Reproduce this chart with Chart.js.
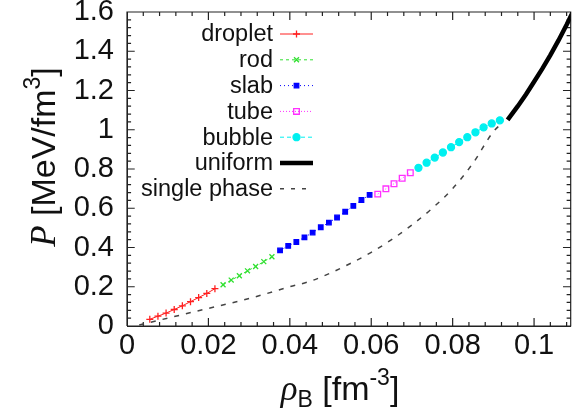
<!DOCTYPE html>
<html>
<head>
<meta charset="utf-8">
<title>Pressure vs baryon density</title>
<script src="https://cdn.jsdelivr.net/npm/chart.js@4.4.1/dist/chart.umd.min.js"></script>
<style>
  html, body { margin: 0; padding: 0; background: #fff; }
  #chart { display: block; }
</style>
</head>
<body>
<canvas id="chart" width="576" height="411"></canvas>
<script>
// values (x: rho_B in fm^-3, y: P in MeV/fm^3)
const dropletX = [0.0056, 0.0076, 0.0096, 0.0116, 0.0136, 0.0156, 0.0176, 0.0196, 0.0216];
const dropletP = [0.034, 0.050, 0.066, 0.084, 0.103, 0.124, 0.145, 0.166, 0.190];
const rodX = [0.0236, 0.0256, 0.0276, 0.0296, 0.0316, 0.0336, 0.0356];
const rodP = [0.210, 0.234, 0.256, 0.281, 0.303, 0.328, 0.353];
const slabX = [0.0376, 0.0396, 0.0416, 0.0436, 0.0456, 0.0476, 0.0496, 0.0516, 0.0536, 0.0556, 0.0576, 0.0596];
const slabP = [0.385, 0.408, 0.428, 0.452, 0.476, 0.503, 0.527, 0.553, 0.582, 0.612, 0.642, 0.668];
const tubeX = [0.0616, 0.0636, 0.0656, 0.0676, 0.0696];
const tubeP = [0.672, 0.699, 0.725, 0.753, 0.781];
const bubbleX = [0.0716, 0.0736, 0.0756, 0.0776, 0.0796, 0.0816, 0.0836, 0.0856, 0.0876, 0.0896, 0.0916];
const bubbleP = [0.806, 0.832, 0.858, 0.884, 0.911, 0.937, 0.962, 0.987, 1.012, 1.032, 1.048];
const uniformX = [0.0935, 0.096, 0.098, 0.100, 0.102, 0.104, 0.106, 0.108, 0.110];
const uniformP = [1.05, 1.12, 1.18, 1.245, 1.31, 1.38, 1.455, 1.535, 1.62];
const singleX = [0.003, 0.01, 0.02, 0.03, 0.04, 0.045, 0.05, 0.055, 0.06, 0.065, 0.07, 0.075, 0.08, 0.085, 0.09, 0.0925];
const singleP = [0.005, 0.04, 0.09, 0.14, 0.2, 0.228, 0.27, 0.32, 0.375, 0.44, 0.515, 0.6, 0.7, 0.83, 0.99, 1.04];

const X_MAX = 0.109;
const Y_MAX = 1.6;
const xMinorStep = 0.004;  // labelled every 5th tick (0.02)
const yMinorStep = 0.04;   // labelled every 5th tick (0.2)

const SANS = '"Liberation Sans", Arial, sans-serif';
const SERIF = '"Liberation Serif", "Times New Roman", serif';

function pts(xs, ys) {
  return xs.map((x, i) => ({ x: x, y: ys[i] }));
}
function tickValues(step, max) {
  const out = [];
  for (let i = 0; i * step <= max + 1e-9; i++) out.push(+(i * step).toFixed(4));
  return out;
}
function majorLabel(digits) {
  return (v, i) => (i % 5 === 0 ? String(+v.toFixed(digits)) : '');
}

const series = [
  { label: 'droplet', data: pts(dropletX, dropletP), color: '#ff2020', style: 'cross', radius: 3.5, dash: [], fill: false },
  { label: 'rod', data: pts(rodX, rodP), color: '#30e030', style: 'crossRot', radius: 3.5, dash: [3, 3], fill: false },
  { label: 'slab', data: pts(slabX, slabP), color: '#0000ff', style: 'rect', radius: 3.2, dash: [1, 3], fill: true },
  { label: 'tube', data: pts(tubeX, tubeP), color: '#ff30ff', style: 'rect', radius: 4, dash: [1, 2], fill: false },
  { label: 'bubble', data: pts(bubbleX, bubbleP), color: '#00f0f0', style: 'circle', radius: 3.5, dash: [4, 3], fill: true },
];

const datasets = series.map((s) => ({
  label: s.label,
  data: s.data,
  showLine: true,
  borderColor: s.color,
  borderWidth: 1,
  borderDash: s.dash,
  pointStyle: s.style,
  pointRadius: s.radius,
  pointBorderColor: s.color,
  pointBackgroundColor: s.fill ? s.color : 'rgba(0,0,0,0)',
  pointBorderWidth: 1.3,
  clip: 0,
}));

datasets.push({
  label: 'uniform',
  data: pts(uniformX, uniformP),
  showLine: true,
  borderColor: '#000',
  borderWidth: 4.5,
  pointRadius: 0,
  clip: 0,
});
datasets.push({
  label: 'single phase',
  data: pts(singleX, singleP),
  showLine: true,
  borderColor: '#444',
  borderWidth: 1.5,
  borderDash: [5, 7],
  cubicInterpolationMode: 'monotone',
  pointRadius: 0,
  clip: 0,
});

// frame box and inward ticks, run through the same scales as the data
const xTickLen = [0.0019, 0.001];   // major, minor (about 8px / 4px)
const yTickLen = [0.041, 0.02];
const frameLines = [
  { x: 0, y: 0 }, { x: X_MAX, y: 0 }, { x: X_MAX, y: Y_MAX }, { x: 0, y: Y_MAX }, { x: 0, y: 0 }, { x: 0, y: null },
];
tickValues(xMinorStep, X_MAX).forEach((v, i) => {
  const len = yTickLen[i % 5 === 0 ? 0 : 1];
  frameLines.push({ x: v, y: 0 }, { x: v, y: len }, { x: v, y: null });
  frameLines.push({ x: v, y: Y_MAX }, { x: v, y: Y_MAX - len }, { x: v, y: null });
});
tickValues(yMinorStep, Y_MAX).forEach((v, i) => {
  const len = xTickLen[i % 5 === 0 ? 0 : 1];
  frameLines.push({ x: 0, y: v }, { x: len, y: v }, { x: 0, y: null });
  frameLines.push({ x: X_MAX, y: v }, { x: X_MAX - len, y: v }, { x: X_MAX, y: null });
});
datasets.push({
  label: 'frame',
  data: frameLines,
  showLine: true,
  spanGaps: false,
  borderColor: '#222',
  borderWidth: 1.2,
  pointRadius: 0,
  clip: 3,
});

// draws a run of [text, font, baselineShift] pieces starting at x
function drawRun(ctx, parts, x, y) {
  parts.forEach((p) => {
    ctx.font = p[1];
    ctx.fillText(p[0], x, y + p[2]);
    x += ctx.measureText(p[0]).width;
  });
}
function runWidth(ctx, parts) {
  return parts.reduce((w, p) => { ctx.font = p[1]; return w + ctx.measureText(p[0]).width; }, 0);
}

function drawTitles(ctx) {
  ctx.save();
  ctx.fillStyle = '#111';
  ctx.textBaseline = 'alphabetic';
  ctx.textAlign = 'left';
  const big = '34px ' + SANS;
  const small = '23px ' + SANS;
  const xParts = [['ρ', 'italic 35px ' + SERIF, 0], ['B', small, 7], [' [fm', big, 0], ['-3', small, -15], [']', big, 0]];
  const xw = runWidth(ctx, xParts);
  drawRun(ctx, xParts, 340 - xw / 2, 400);

  const yParts = [['P', 'italic 35px ' + SERIF, 0], [' [MeV/fm', big, 0], ['3', small, -15], [']', big, 0]];
  const yw = runWidth(ctx, yParts);
  ctx.translate(55, 157);
  ctx.rotate(-Math.PI / 2);
  drawRun(ctx, yParts, -yw / 2, 0);
  ctx.restore();
}

// legend: text right-aligned, sample line + marker to its right
function drawLegend(ctx) {
  const rows = series.concat([
    { label: 'uniform', color: '#000', width: 4.5, dash: [] },
    { label: 'single phase', color: '#444', width: 1.5, dash: [4, 7] },
  ]);
  ctx.save();
  ctx.font = '23.5px ' + SANS;
  ctx.textAlign = 'right';
  ctx.textBaseline = 'middle';
  rows.forEach((r, i) => {
    const y = 34 + i * 25.8;
    ctx.fillStyle = '#111';
    ctx.fillText(r.label, 273, y + 1);
    ctx.strokeStyle = r.color;
    ctx.lineWidth = r.width || 1;
    ctx.setLineDash(r.dash);
    ctx.beginPath();
    ctx.moveTo(280, y);
    ctx.lineTo(313, y);
    ctx.stroke();
    ctx.setLineDash([]);
    if (r.style) {
      ctx.strokeStyle = r.color;
      ctx.fillStyle = r.fill ? r.color : 'rgba(0,0,0,0)';
      ctx.lineWidth = 1.3;
      Chart.helpers.drawPoint(ctx, { pointStyle: r.style, radius: r.radius, rotation: 0, borderWidth: 1.3 }, 296.5, y);
    }
  });
  ctx.restore();
}

const decorPlugin = {
  id: 'decor',
  afterDraw(chart) {
    drawTitles(chart.ctx);
    drawLegend(chart.ctx);
  },
};

new Chart(document.getElementById('chart'), {
  type: 'scatter',
  data: { datasets: datasets },
  options: {
    responsive: false,
    animation: false,
    events: [],
    layout: { padding: { top: 12, right: 1, left: 0, bottom: 0 } },
    plugins: { legend: { display: false }, tooltip: { enabled: false } },
    scales: {
      x: {
        type: 'linear',
        min: 0,
        max: X_MAX,
        afterBuildTicks: (s) => { s.ticks = tickValues(xMinorStep, X_MAX).map((v) => ({ value: v })); },
        afterFit: (s) => { s.height = 85; s.paddingLeft = 0; s.paddingRight = 0; },
        grid: { display: false, drawTicks: false },
        border: { display: true, color: '#222', width: 1 },
        ticks: {
          color: '#111',
          padding: 3,
          maxRotation: 0,
          autoSkip: false,
          font: { family: SANS, size: 29 },
          callback: majorLabel(3),
        },
      },
      y: {
        type: 'linear',
        min: 0,
        max: Y_MAX,
        afterBuildTicks: (s) => { s.ticks = tickValues(yMinorStep, Y_MAX).map((v) => ({ value: v })); },
        afterFit: (s) => { s.width = 127; s.paddingTop = 0; s.paddingBottom = 0; },
        grid: { display: false, drawTicks: false },
        border: { display: true, color: '#222', width: 1 },
        ticks: {
          color: '#111',
          padding: 13,
          autoSkip: false,
          font: { family: SANS, size: 29 },
          callback: majorLabel(2),
        },
      },
    },
  },
  plugins: [decorPlugin],
});
</script>
</body>
</html>
